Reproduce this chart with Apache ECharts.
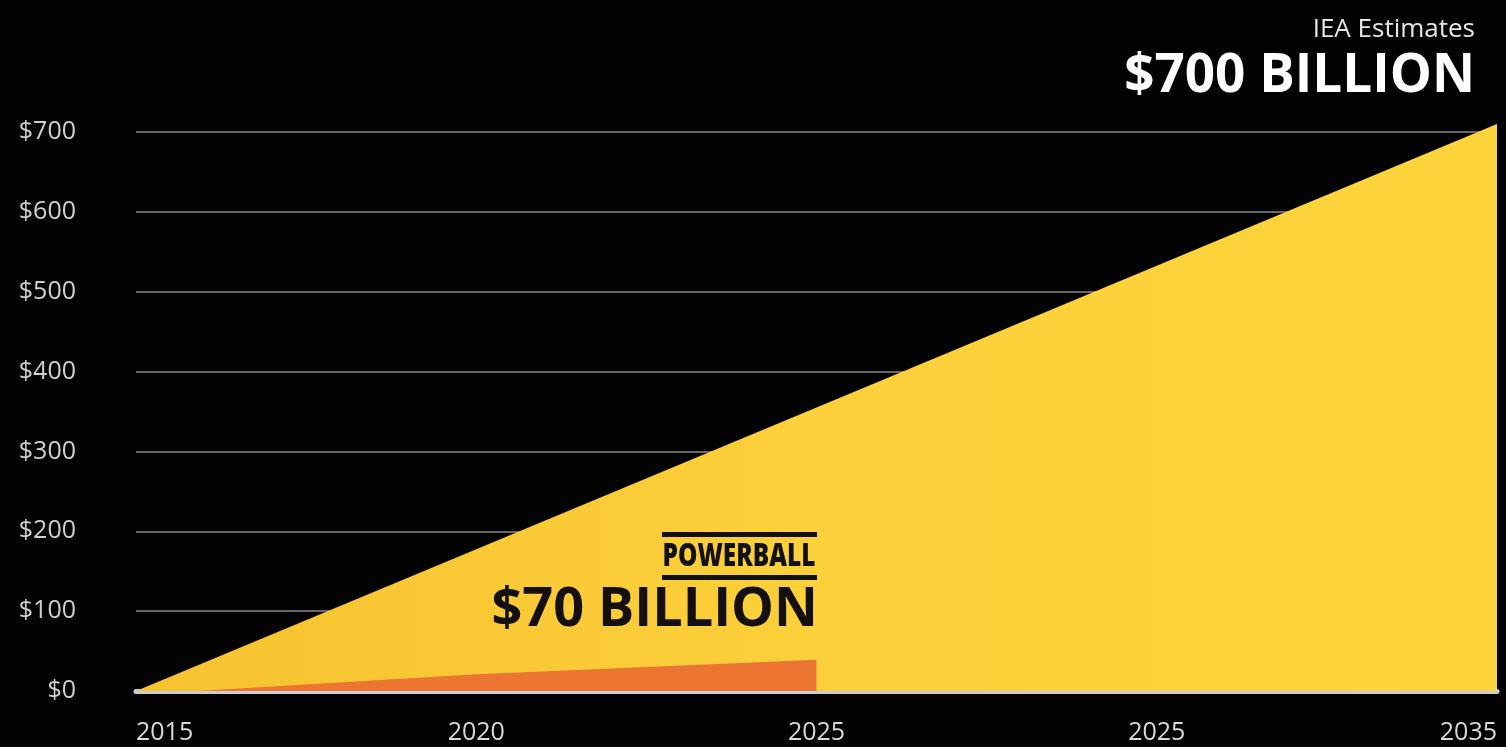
<!DOCTYPE html>
<html>
<head>
<meta charset="utf-8">
<script src="https://cdn.jsdelivr.net/npm/echarts@6/dist/echarts.min.js"></script>
<style>
html,body{margin:0;padding:0;background:#030303;}
#chart{width:1506px;height:747px;}
</style>
</head>
<body>
<div id="chart"></div>
<script>
// Tick labels as printed on the reference x axis (positions 2015..2035 every 5 years)
const xTickLabels = ['2015', '2020', '2025', '2025', '2035'];
const yTickLabels = ['$0', '$100', '$200', '$300', '$400', '$500', '$600', '$700'];

// IEA estimate (yellow wedge)
const ieaYears = [2015, 2035];
const ieaValues = [0, 710];

// Powerball (orange sliver)
const pbYears = [2015.9, 2020, 2025];
const pbValues = [0, 21, 39];

const chart = echarts.init(document.getElementById('chart'));
const labelFont = '"Open Sans", "DejaVu Sans", sans-serif';

// fit the POWERBALL wordmark into the width of its bars
const pbFont = '800 27px "Open Sans", "DejaVu Sans", sans-serif';
const ctx = document.createElement('canvas').getContext('2d');
ctx.font = pbFont;
const pbScale = 153 / ctx.measureText('POWERBALL').width;

chart.setOption({
  backgroundColor: '#030303',
  animation: false,
  grid: { left: 136, right: 9, top: 132, bottom: 56 },
  xAxis: {
    type: 'value', min: 2015, max: 2035, interval: 5,
    axisLine: { show: true, onZero: false, lineStyle: { color: '#cdcbd9', width: 5 } },
    axisTick: { show: false },
    splitLine: { show: false },
    axisLabel: {
      color: '#d9d9d9', fontSize: 25, fontFamily: labelFont, margin: 29,
      alignMinLabel: 'left', alignMaxLabel: 'right',
      formatter: v => xTickLabels[Math.round((v - 2015) / 5)]
    }
  },
  yAxis: {
    type: 'value', min: 0, max: 700, interval: 100,
    axisLine: { show: false }, axisTick: { show: false },
    splitLine: { lineStyle: { color: '#8a8a8a', width: 1.5 } },
    axisLabel: {
      color: '#d0d0d0', fontSize: 25, fontFamily: labelFont, margin: 60,
      formatter: v => yTickLabels[Math.round(v / 100)]
    }
  },
  series: [
    {
      type: 'line', name: 'IEA Estimates', clip: false, z: 3,
      data: ieaYears.map((y, i) => [y, ieaValues[i]]),
      symbol: 'none', lineStyle: { width: 0 },
      areaStyle: {
        opacity: 1,
        color: new echarts.graphic.LinearGradient(0, 0, 1, 0, [
          { offset: 0, color: '#F6C230' }, { offset: 0.5, color: '#FCD03A' }, { offset: 1, color: '#FDD43C' }
        ])
      }
    },
    {
      type: 'line', name: 'Powerball', z: 4,
      data: pbYears.map((y, i) => [y, pbValues[i]]),
      symbol: 'none', lineStyle: { width: 0 },
      areaStyle: { opacity: 1, color: '#EC7532' }
    }
  ],
  graphic: [
    { type: 'text', z: 10, style: { text: 'IEA Estimates', x: 1475, y: 30, textAlign: 'right', textVerticalAlign: 'middle', align: 'right', verticalAlign: 'middle', font: '26px "Open Sans", sans-serif', fill: '#e6e6e6' } },
    { type: 'text', z: 10, style: { text: '$700 BILLION', x: 1475, y: 77, textAlign: 'right', textVerticalAlign: 'middle', align: 'right', verticalAlign: 'middle', font: 'bold 53px "Open Sans", sans-serif', fill: '#ffffff' } },
    { type: 'rect', z: 10, shape: { x: 662, y: 532, width: 155, height: 5 }, style: { fill: '#111' } },
    { type: 'text', z: 10, x: 739, y: 557, scaleX: pbScale, scaleY: 1.15, style: { text: 'POWERBALL', x: 0, y: 0, textAlign: 'center', textVerticalAlign: 'middle', align: 'center', verticalAlign: 'middle', font: pbFont, fill: '#111' } },
    { type: 'rect', z: 10, shape: { x: 662, y: 575, width: 155, height: 5 }, style: { fill: '#111' } },
    { type: 'text', z: 10, style: { text: '$70 BILLION', x: 818, y: 611, textAlign: 'right', textVerticalAlign: 'middle', align: 'right', verticalAlign: 'middle', font: 'bold 54px "Open Sans", sans-serif', fill: '#151010' } }
  ]
});
</script>
</body>
</html>
